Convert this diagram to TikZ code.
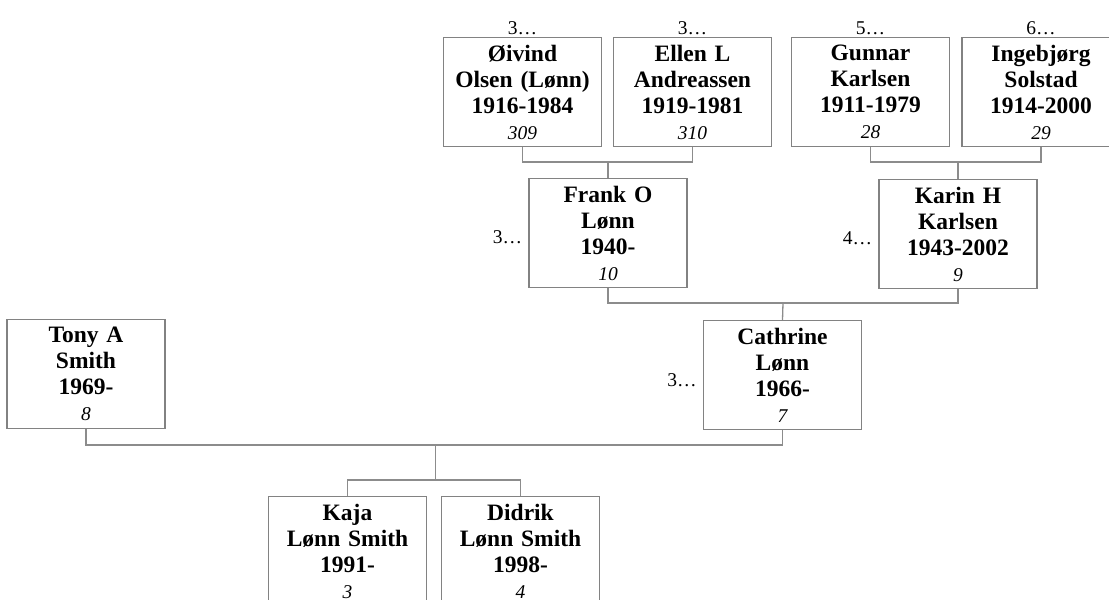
\documentclass[tikz,border=0pt]{standalone}
\usepackage{fontspec}
\setmainfont{Liberation Serif}
\tikzset{
  person/.style={draw=boxgray, line width=1.3pt, fill=white, minimum width=158pt, minimum height=109pt,
    inner sep=0pt, text width=158pt, align=center, font=\fontsize{23.5}{26}\selectfont\bfseries},
  link/.style={draw=linegray, line width=1.3pt},
  more/.style={font=\fontsize{19.5}{22}\selectfont, inner sep=0pt}
}
\definecolor{boxgray}{RGB}{130,130,130}
\definecolor{linegray}{RGB}{140,140,140}
\newcommand{\idn}[1]{{\fontsize{19.5}{25}\selectfont\mdseries\itshape #1}}
\begin{document}
\begin{tikzpicture}[x=1pt,y=-1pt]
\useasboundingbox (0,0) rectangle (1109,600);
\clip (0,0) rectangle (1109,600);
% people
\node[person] (oivind) at (522.5,92) {Øivind\\Olsen (Lønn)\\1916-1984\\\idn{309}};
\node[person] (ellen) at (692.5,92) {Ellen L\\Andreassen\\1919-1981\\\idn{310}};
\node[person] (gunnar) at (870.5,92) {Gunnar\\Karlsen\\1911-1979\\\idn{28}};
\node[person] (inge) at (1041,92) {Ingebjørg\\Solstad\\1914-2000\\\idn{29}};
\node[person] (frank) at (608,233) {Frank O\\Lønn\\1940-\\\idn{10}};
\node[person] (karin) at (958,234) {Karin H\\Karlsen\\1943-2002\\\idn{9}};
\node[person] (cath) at (782.5,375) {Cathrine\\Lønn\\1966-\\\idn{7}};
\node[person] (tony) at (86,374) {Tony A\\Smith\\1969-\\\idn{8}};
\node[person] (kaja) at (347.5,551) {Kaja\\Lønn Smith\\1991-\\\idn{3}};
\node[person] (didrik) at (520.5,551) {Didrik\\Lønn Smith\\1998-\\\idn{4}};
% more-ancestor labels
\node[more, anchor=south] (m1) at ([yshift=2pt]oivind.north) {3…};
\node[more, anchor=south] (m2) at ([yshift=2pt]ellen.north) {3…};
\node[more, anchor=south] (m3) at ([yshift=2pt]gunnar.north) {5…};
\node[more, anchor=south] (m4) at ([yshift=2pt]inge.north) {6…};
\node[more, anchor=east] (m5) at ([xshift=-6pt,yshift=-4pt]frank.west) {3…};
\node[more, anchor=east] (m6) at ([xshift=-6pt,yshift=-4pt]karin.west) {4…};
\node[more, anchor=east] (m7) at ([xshift=-6pt,yshift=-5pt]cath.west) {3…};
% junctions
\coordinate (jf) at (608,162);
\coordinate (jk) at (958,162);
\coordinate (jc) at (783,303);
\coordinate (jt) at (435.5,445);
\coordinate (jch) at (435.5,480);
% connectors
\draw[link] (oivind.south) |- (jf) -| (ellen.south);
\draw[link] (jf) -- (frank.north);
\draw[link] (gunnar.south) |- (jk) -| (inge.south);
\draw[link] (jk) -- (karin.north);
\draw[link] (frank.south) |- (jc) -| (karin.south);
\draw[link] (jc) -- (cath.north);
\draw[link] (tony.south) |- (jt) -| (cath.south);
\draw[link] (jt) -- (jch);
\draw[link] (kaja.north) |- (jch) -| (didrik.north);
\end{tikzpicture}
\end{document}
